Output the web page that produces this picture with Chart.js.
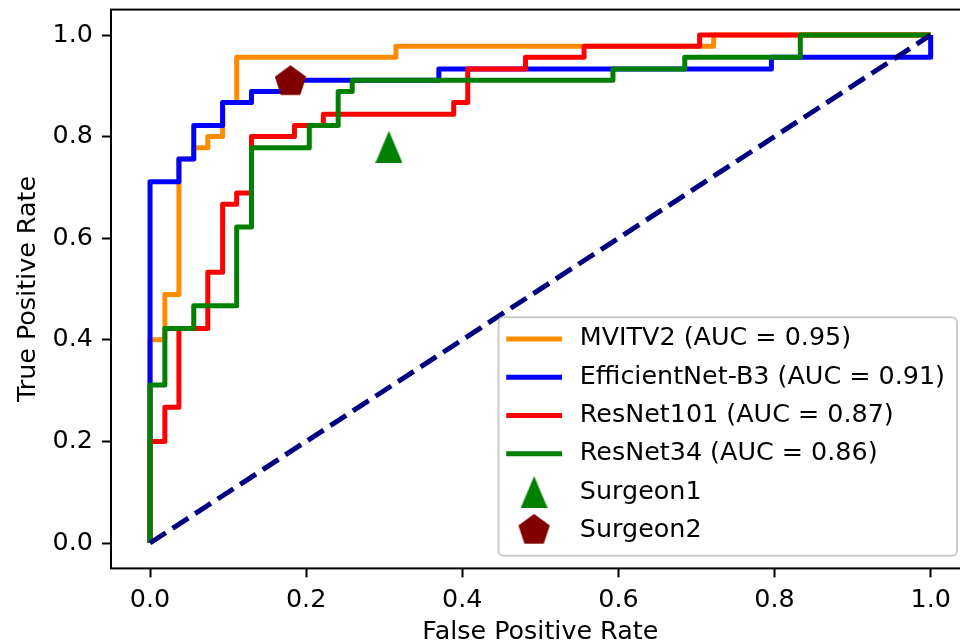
<!DOCTYPE html>
<html>
<head>
<meta charset="utf-8">
<script src="https://cdn.jsdelivr.net/npm/chart.js@4.4.0/dist/chart.umd.min.js"></script>
<style>
  html, body { margin: 0; padding: 0; background: #fff; overflow: hidden; width: 960px; height: 644px; }
  #wrap { position: absolute; left: 0; top: 0; width: 960px; height: 644px; overflow: hidden; }
</style>
</head>
<body>
<div id="wrap"><canvas id="roc" width="960" height="644"></canvas></div>
<script>
    // ROC corner points
    const mvitFpr = [0, 0, 0.019, 0.019, 0.037, 0.037, 0.056, 0.056, 0.074, 0.074, 0.093, 0.093, 0.111, 0.111, 0.315, 0.315, 0.722, 0.722, 1];
    const mvitTpr = [0, 0.4, 0.4, 0.489, 0.489, 0.756, 0.756, 0.778, 0.778, 0.8, 0.8, 0.867, 0.867, 0.956, 0.956, 0.978, 0.978, 1, 1];

    const effFpr = [0, 0, 0.037, 0.037, 0.056, 0.056, 0.093, 0.093, 0.13, 0.13, 0.185, 0.185, 0.37, 0.37, 0.796, 0.796, 1, 1];
    const effTpr = [0, 0.711, 0.711, 0.756, 0.756, 0.822, 0.822, 0.867, 0.867, 0.889, 0.889, 0.911, 0.911, 0.933, 0.933, 0.956, 0.956, 1];

    const r101Fpr = [0, 0, 0.019, 0.019, 0.037, 0.037, 0.074, 0.074, 0.093, 0.093, 0.111, 0.111, 0.13, 0.13, 0.185, 0.185, 0.222, 0.222, 0.389, 0.389, 0.407, 0.407, 0.481, 0.481, 0.556, 0.556, 0.704, 0.704, 1];
    const r101Tpr = [0, 0.2, 0.2, 0.267, 0.267, 0.422, 0.422, 0.533, 0.533, 0.667, 0.667, 0.689, 0.689, 0.8, 0.8, 0.822, 0.822, 0.844, 0.844, 0.867, 0.867, 0.933, 0.933, 0.956, 0.956, 0.978, 0.978, 1, 1];

    const r34Fpr = [0, 0, 0.019, 0.019, 0.056, 0.056, 0.111, 0.111, 0.13, 0.13, 0.204, 0.204, 0.241, 0.241, 0.259, 0.259, 0.593, 0.593, 0.685, 0.685, 0.833, 0.833, 1];
    const r34Tpr = [0, 0.311, 0.311, 0.422, 0.422, 0.467, 0.467, 0.622, 0.622, 0.778, 0.778, 0.822, 0.822, 0.889, 0.889, 0.911, 0.911, 0.933, 0.933, 0.956, 0.956, 1, 1];

    const chanceX = [0, 1];
    const chanceY = [0, 1];

    const surgeon1 = { x: 0.306, y: 0.78 };
    const surgeon2 = { x: 0.18, y: 0.908 };

    const modelLabels = ['MVITV2 (AUC = 0.95)', 'EfficientNet-B3 (AUC = 0.91)', 'ResNet101 (AUC = 0.87)', 'ResNet34 (AUC = 0.86)'];
    const surgeonLabels = ['Surgeon1', 'Surgeon2'];
    const axisTicks = [0, 0.2, 0.4, 0.6, 0.8, 1.0];

    const FONT = 'DejaVu Sans';
    const FS = 25.4;
    // where the axes box sits in the reference (right edge runs off the page)
    const AREA = { left: 111, top: 9.6, right: 969.7, bottom: 568.4 };

    const toPoints = (xs, ys) => xs.map((x, i) => ({ x, y: ys[i] }));

    // marker images
    function triangleMarker(color, w, h) {
      const c = document.createElement('canvas');
      c.width = w; c.height = h;
      const g = c.getContext('2d');
      g.fillStyle = color;
      g.beginPath();
      g.moveTo(w / 2, 0);
      g.lineTo(w, h);
      g.lineTo(0, h);
      g.closePath();
      g.fill();
      return c;
    }
    function pentagonMarker(color, r) {
      const s = Math.ceil(2 * r + 2);
      const c = document.createElement('canvas');
      c.width = s; c.height = s;
      const g = c.getContext('2d');
      g.fillStyle = color;
      g.beginPath();
      for (let k = 0; k < 5; k++) {
        const a = -Math.PI / 2 + k * 2 * Math.PI / 5;
        const px = s / 2 + r * Math.cos(a), py = s / 2 + r * Math.sin(a);
        if (k === 0) g.moveTo(px, py); else g.lineTo(px, py);
      }
      g.closePath();
      g.fill();
      return c;
    }
    const triImg = triangleMarker('#008000', 27, 32);
    const pentImg = pentagonMarker('#800000', 16.5);

    function lineSet(label, xs, ys, color, order) {
      return {
        label, data: toPoints(xs, ys), showLine: true, borderColor: color, backgroundColor: color,
        borderWidth: 5, pointRadius: 0, borderJoinStyle: 'round', fill: false, tension: 0, order
      };
    }

    const datasets = [
      lineSet(modelLabels[0], mvitFpr, mvitTpr, '#ff8c00', 6),
      lineSet(modelLabels[1], effFpr, effTpr, '#0000ff', 5),
      lineSet(modelLabels[2], r101Fpr, r101Tpr, '#ff0000', 4),
      lineSet(modelLabels[3], r34Fpr, r34Tpr, '#008000', 3),
      { label: 'chance', data: toPoints(chanceX, chanceY), showLine: true, borderColor: '#000080',
        borderWidth: 5, borderDash: [18.8, 8.1], pointRadius: 0, fill: false, order: 2 },
      { label: surgeonLabels[0], data: [surgeon1], pointStyle: triImg, pointRadius: 16, order: 1, legendImg: triImg },
      { label: surgeonLabels[1], data: [surgeon2], pointStyle: pentImg, pointRadius: 16, order: 0, legendImg: pentImg }
    ];

    // pin the plot box (and the two scales around it) to the reference geometry
    const areaPlugin = {
      id: 'fixedArea',
      afterLayout(chart) {
        const { x, y } = chart.scales;
        chart.chartArea = {
          left: AREA.left, top: AREA.top, right: AREA.right, bottom: AREA.bottom,
          width: AREA.right - AREA.left, height: AREA.bottom - AREA.top
        };
        Object.assign(x, { left: AREA.left, right: AREA.right, top: AREA.bottom, bottom: chart.height,
          width: AREA.right - AREA.left, height: chart.height - AREA.bottom });
        Object.assign(y, { left: 0, right: AREA.left, top: AREA.top, bottom: AREA.bottom,
          width: AREA.left, height: AREA.bottom - AREA.top });
        x.configure();
        y.configure();
      }
    };

    // axes frame on all four sides
    const framePlugin = {
      id: 'frame',
      afterDatasetsDraw(chart) {
        const { ctx, chartArea: a } = chart;
        ctx.save();
        ctx.strokeStyle = '#000';
        ctx.lineWidth = 2;
        ctx.strokeRect(a.left, a.top, a.right - a.left, a.bottom - a.top);
        ctx.restore();
      }
    };

    // matplotlib-like legend box, lower right
    const legendPlugin = {
      id: 'boxLegend',
      afterDraw(chart) {
        const { ctx, chartArea: a } = chart;
        const entries = chart.data.datasets.filter(d => d.label !== 'chance');
        ctx.save();
        ctx.font = `${FS}px "${FONT}"`;
        const maxW = Math.max(...entries.map(d => ctx.measureText(d.label).width));
        const rowH = 38.3;
        const right = a.right - 12.7, bottom = a.bottom - 12.7;
        const w = 10.2 + 50.8 + 20.3 + maxW + 12;
        const h = 21.6 + rowH * (entries.length - 1) + 25.3;
        const left = right - w, top = bottom - h;

        ctx.beginPath();
        ctx.roundRect(left, top, w, h, 5);
        ctx.fillStyle = 'rgba(255,255,255,0.8)';
        ctx.fill();
        ctx.strokeStyle = '#cccccc';
        ctx.lineWidth = 2;
        ctx.stroke();

        entries.forEach((d, i) => {
          const cy = top + 21.6 + i * rowH;
          const hx = left + 10.2;
          if (d.legendImg) {
            const img = d.legendImg;
            ctx.drawImage(img, hx + 25.4 - img.width / 2, cy - img.height / 2);
          } else {
            ctx.strokeStyle = d.borderColor;
            ctx.lineWidth = 5;
            ctx.lineCap = 'square';
            ctx.beginPath();
            ctx.moveTo(hx, cy);
            ctx.lineTo(hx + 50.8, cy);
            ctx.stroke();
          }
          ctx.fillStyle = '#000';
          ctx.textBaseline = 'middle';
          ctx.textAlign = 'left';
          ctx.fillText(d.label, hx + 50.8 + 20.3, cy);
        });
        ctx.restore();
      }
    };

    const tickFont = { family: FONT, size: FS };
    const setTicks = scale => { scale.ticks = axisTicks.map(v => ({ value: v })); };
    const noPad = s => { s.paddingTop = 0; s.paddingBottom = 0; s.paddingLeft = 0; s.paddingRight = 0; };

    new Chart(document.getElementById('roc'), {
      type: 'scatter',
      data: { datasets },
      options: {
        responsive: false,
        animation: false,
        events: [],
        layout: { padding: { top: 9.6, right: 0, left: 0, bottom: 0 } },
        plugins: { legend: { display: false }, tooltip: { enabled: false } },
        scales: {
          x: {
            type: 'linear', min: -0.05, max: 1.05,
            afterBuildTicks: setTicks,
            afterFit: s => { s.height = 75.6; noPad(s); },
            border: { display: false },
            grid: { display: true, drawOnChartArea: false, drawTicks: true, tickLength: 9, tickWidth: 2, color: '#000' },
            ticks: { color: '#000', font: tickFont, padding: 7.5, callback: v => v.toFixed(1) },
            title: { display: true, text: 'False Positive Rate', color: '#000', font: { family: FONT, size: FS, lineHeight: 0.95 }, padding: 0 }
          },
          y: {
            type: 'linear', min: -0.05, max: 1.05,
            afterBuildTicks: setTicks,
            afterFit: s => { s.width = 111; noPad(s); },
            border: { display: false },
            grid: { display: true, drawOnChartArea: false, drawTicks: true, tickLength: 9, tickWidth: 2, color: '#000' },
            ticks: { color: '#000', font: tickFont, padding: 9, callback: v => v.toFixed(1) },
            title: { display: true, text: 'True Positive Rate', color: '#000', font: { family: FONT, size: FS }, padding: { top: 12.8, bottom: 0 } }
          }
        }
      },
      plugins: [areaPlugin, framePlugin, legendPlugin]
    });
</script>
</body>
</html>
